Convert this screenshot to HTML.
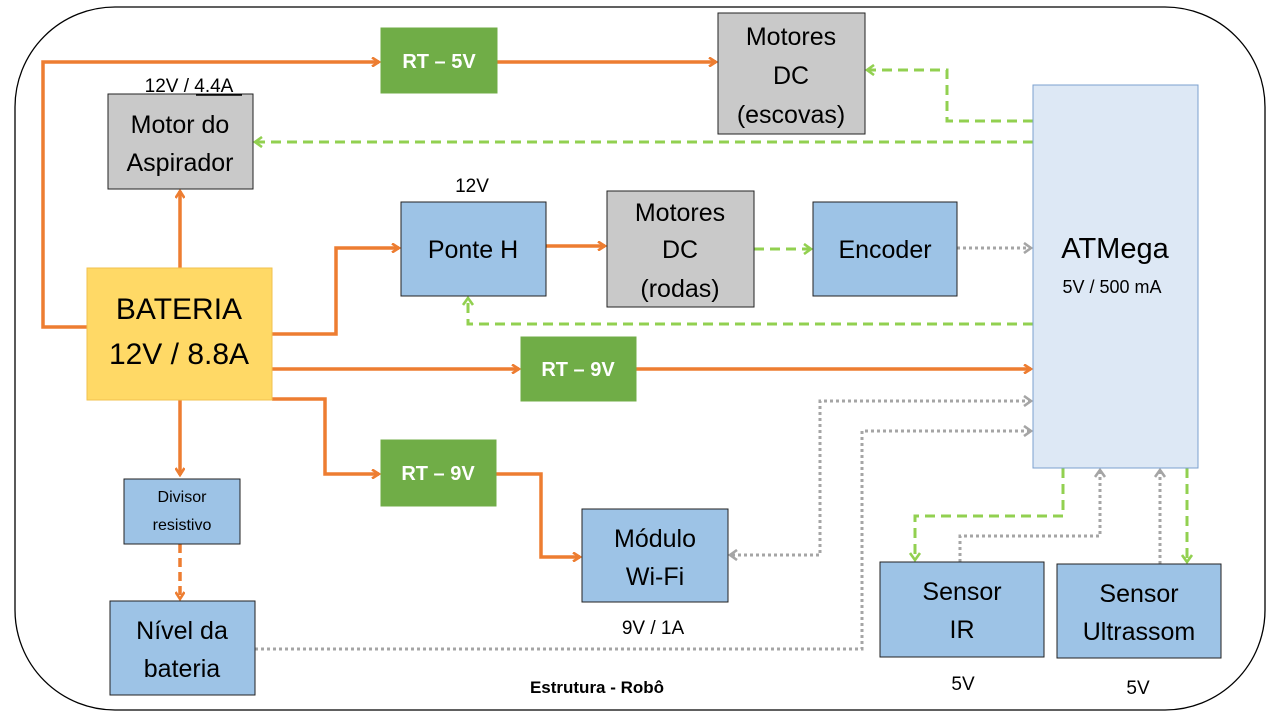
<!DOCTYPE html>
<html><head><meta charset="utf-8"><style>
html,body{margin:0;padding:0;background:#fff}
svg{display:block}
text{font-family:"Liberation Sans",sans-serif}
</style></head><body>
<svg width="1280" height="720" viewBox="0 0 1280 720" xmlns="http://www.w3.org/2000/svg">
<defs>
<marker id="ao" markerWidth="10" markerHeight="10" refX="8" refY="5" orient="auto" markerUnits="userSpaceOnUse" viewBox="0 0 10 10"><polyline points="1,0.5 8,5 1,9.5" fill="none" stroke="#ed7d31" stroke-width="2.6"/></marker>
<marker id="ag" markerWidth="12" markerHeight="12" refX="9" refY="6" orient="auto" markerUnits="userSpaceOnUse" viewBox="0 0 12 12"><polyline points="2,1 9,6 2,11" fill="none" stroke="#92d050" stroke-width="2.6"/></marker>
<marker id="ar" markerWidth="12" markerHeight="12" refX="9" refY="6" orient="auto-start-reverse" markerUnits="userSpaceOnUse" viewBox="0 0 12 12"><polyline points="2,1 9,6 2,11" fill="none" stroke="#a5a5a5" stroke-width="2.6"/></marker>
</defs>
<rect x="15" y="7" width="1250" height="703" rx="100" ry="100" fill="#fff" stroke="#000" stroke-width="1.3"/>

<g fill="none" stroke="#ed7d31" stroke-width="3.5">
<polyline points="87,327 43,327 43,62 379,62" marker-end="url(#ao)"/>
<line x1="497" y1="62" x2="716" y2="62" marker-end="url(#ao)"/>
<line x1="180" y1="268" x2="180" y2="191" marker-end="url(#ao)"/>
<polyline points="272,334 336,334 336,248 399,248" marker-end="url(#ao)"/>
<line x1="546" y1="246" x2="605" y2="246" marker-end="url(#ao)"/>
<line x1="272" y1="369" x2="519" y2="369" marker-end="url(#ao)"/>
<line x1="636" y1="369" x2="1031" y2="369" marker-end="url(#ao)"/>
<polyline points="272,399 325,399 325,474 379,474" marker-end="url(#ao)"/>
<polyline points="496,474 541,474 541,557 580,557" marker-end="url(#ao)"/>
<line x1="180" y1="400" x2="180" y2="475" marker-end="url(#ao)"/>
<line x1="180" y1="544" x2="180" y2="599" stroke-dasharray="9 5" marker-end="url(#ao)"/>
</g>
<g fill="none" stroke="#92d050" stroke-width="3" stroke-dasharray="10 6">
<polyline points="1033,121 947,121 947,70 867,70" marker-end="url(#ag)"/>
<line x1="1033" y1="142" x2="255" y2="142" marker-end="url(#ag)"/>
<line x1="754" y1="249" x2="811" y2="249" marker-end="url(#ag)"/>
<polyline points="1033,324 468,324 468,298" marker-end="url(#ag)"/>
<polyline points="1063,468 1063,516 915,516 915,560" marker-end="url(#ag)"/>
<line x1="1187" y1="468" x2="1187" y2="562" marker-end="url(#ag)"/>
</g>
<g fill="none" stroke="#a5a5a5" stroke-width="3" stroke-dasharray="3 3">
<line x1="957" y1="248" x2="1031" y2="248" marker-end="url(#ar)"/>
<polyline points="1031,401 820,401 820,555 730,555" marker-start="url(#ar)" marker-end="url(#ar)"/>
<polyline points="255,649 862,649 862,431 1031,431" marker-end="url(#ar)"/>
<polyline points="960,562 960,536 1100,536 1100,470" marker-end="url(#ar)"/>
<line x1="1160" y1="564" x2="1160" y2="470" marker-end="url(#ar)"/>
</g>

<g stroke="#222" stroke-width="1">
<rect x="381" y="28" width="116" height="65" fill="#70ad47" stroke="#70ad47"/>
<rect x="718" y="13" width="147" height="121" fill="#c9c9c9"/>
<rect x="108" y="94" width="145" height="95" fill="#c9c9c9"/>
<rect x="1033" y="85" width="165" height="383" fill="#dde8f5" stroke="#7ba0cf"/>
<rect x="401" y="202" width="145" height="94" fill="#9dc3e6"/>
<rect x="607" y="191" width="147" height="116" fill="#c9c9c9"/>
<rect x="813" y="202" width="144" height="94" fill="#9dc3e6"/>
<rect x="87" y="268" width="185" height="132" fill="#ffd966" stroke="#f2c14e"/>
<rect x="521" y="337" width="115" height="64" fill="#70ad47" stroke="#70ad47"/>
<rect x="381" y="440" width="115" height="66" fill="#70ad47" stroke="#70ad47"/>
<rect x="124" y="479" width="116" height="65" fill="#9dc3e6"/>
<rect x="582" y="509" width="146" height="93" fill="#9dc3e6"/>
<rect x="110" y="601" width="145" height="94" fill="#9dc3e6"/>
<rect x="880" y="562" width="164" height="95" fill="#9dc3e6"/>
<rect x="1057" y="564" width="164" height="94" fill="#9dc3e6"/>
</g>

<g text-anchor="middle" fill="#000">
<g fill="#fff" font-weight="bold" font-size="20">
<text x="439" y="68">RT – 5V</text>
<text x="578" y="376">RT – 9V</text>
<text x="438" y="480">RT – 9V</text>
</g>
<g font-size="25">
<text x="791" y="45">Motores</text><text x="791" y="84">DC</text><text x="791" y="123">(escovas)</text>
<text x="180" y="133">Motor do</text><text x="180" y="171">Aspirador</text>
<text x="473" y="258">Ponte H</text>
<text x="680" y="221">Motores</text><text x="680" y="258">DC</text><text x="680" y="297">(rodas)</text>
<text x="885" y="258">Encoder</text>
<text x="655" y="547">Módulo</text><text x="655" y="585">Wi-Fi</text>
<text x="182" y="639">Nível da</text><text x="182" y="677">bateria</text>
<text x="962" y="600">Sensor</text><text x="962" y="638">IR</text>
<text x="1139" y="602">Sensor</text><text x="1139" y="640">Ultrassom</text>
</g>
<text x="179" y="319" font-size="30">BATERIA</text>
<text x="179" y="364" font-size="30">12V / 8.8A</text>
<text x="1115" y="258" font-size="29">ATMega</text>
<text x="1112" y="293" font-size="18">5V / 500 mA</text>
<text x="182" y="502" font-size="16">Divisor</text>
<text x="182" y="530" font-size="16">resistivo</text>
<g font-size="19">
<text x="189" y="92">12V / 4.4A</text>
<text x="472" y="192">12V</text>
<text x="653" y="634">9V / 1A</text>
<text x="963" y="690">5V</text>
<text x="1138" y="694">5V</text>
</g>
<text x="597" y="693" font-size="17" font-weight="bold">Estrutura - Robô</text>
</g>
<line x1="196" y1="95" x2="242" y2="95" stroke="#000" stroke-width="1.5"/>
</svg>
</body></html>
